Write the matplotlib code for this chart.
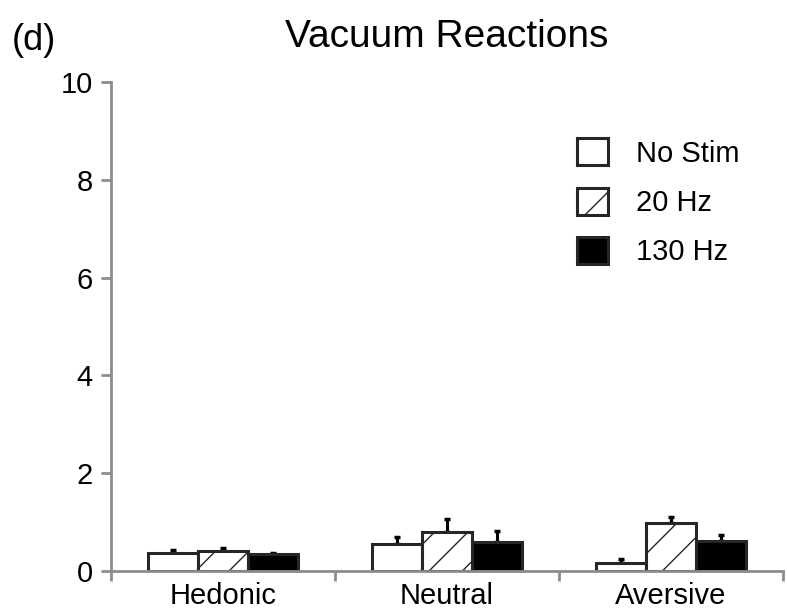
import matplotlib.pyplot as plt
import numpy as np

plt.rcParams['font.family'] = ['Liberation Sans', 'DejaVu Sans']
plt.rcParams['hatch.linewidth'] = 1.0

categories = ["Hedonic", "Neutral", "Aversive"]
conditions = ["No Stim", "20 Hz", "130 Hz"]

# mean and SEM per condition, one value per category
means = {
    "No Stim": [0.36, 0.55, 0.17],
    "20 Hz": [0.41, 0.79, 0.98],
    "130 Hz": [0.34, 0.60, 0.61],
}
sems = {
    "No Stim": [0.07, 0.14, 0.08],
    "20 Hz": [0.07, 0.27, 0.13],
    "130 Hz": [0.03, 0.22, 0.12],
}

fills = {"No Stim": "white", "20 Hz": "white", "130 Hz": "black"}
hatches = {"No Stim": None, "20 Hz": "/", "130 Hz": None}

fig = plt.figure(figsize=(7.87, 6.13), dpi=100)
ax = fig.add_axes([0.141, 0.0685, 0.854, 0.7975])

x = np.arange(len(categories)) + 0.5
width = 0.223
edge = "#262626"

for i, cond in enumerate(conditions):
    pos = x + (i - 1) * width
    ax.bar(pos, means[cond], width, color=fills[cond], edgecolor=edge,
           linewidth=2.2, hatch=hatches[cond], label=cond, zorder=2)
    ax.errorbar(pos, means[cond], yerr=[np.zeros(len(pos)), sems[cond]],
                fmt="none", ecolor="black", elinewidth=2.2, capsize=2.5,
                capthick=2.5, zorder=1)

ax.set_xlim(0, 3)
ax.set_ylim(0, 10)
ax.set_yticks([0, 2, 4, 6, 8, 10])
ax.set_xticks(x)
ax.set_xticklabels(categories)
ax.set_xticks([0, 1, 2, 3], minor=True)
ax.tick_params(axis="x", which="major", length=0, labelsize=21, pad=8)
ax.tick_params(axis="x", which="minor", length=7, width=2, color="#8c8c8c")
ax.tick_params(axis="y", length=7, width=2, color="#8c8c8c", labelsize=21, pad=6)

for side in ["top", "right"]:
    ax.spines[side].set_visible(False)
for side in ["left", "bottom"]:
    ax.spines[side].set_color("#8c8c8c")
    ax.spines[side].set_linewidth(2)

ax.set_title("Vacuum Reactions", fontsize=28, pad=25)
fig.text(0.015, 0.918, "(d)", fontsize=26)

ax.legend(loc="upper left", bbox_to_anchor=(0.672, 0.915), frameon=False,
          fontsize=21, handlelength=1.05, handleheight=1.05, handletextpad=0.95,
          labelspacing=0.68, borderpad=0)

fig.savefig("out.png", dpi=100)
